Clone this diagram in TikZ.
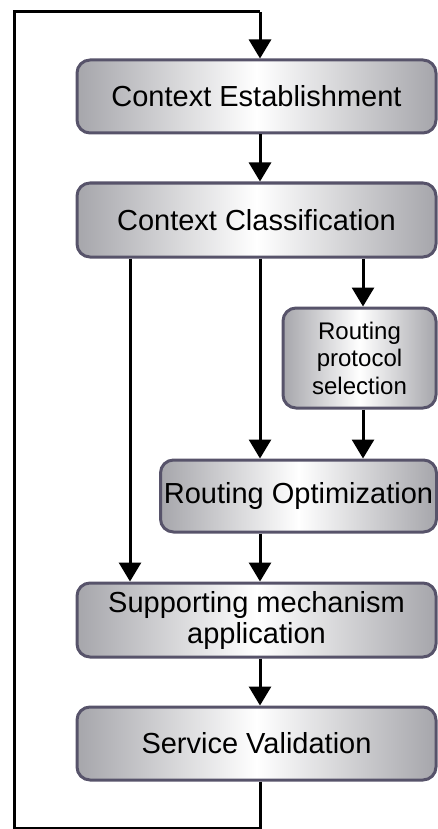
\documentclass[tikz,border=0pt]{standalone}
\usepackage{fontspec}
\setmainfont{Liberation Sans}
\usetikzlibrary{arrows.meta,calc}
\definecolor{boxedge}{HTML}{57536A}
\definecolor{boxside}{HTML}{A6A6AB}
\tikzset{
  stage/.style={draw=boxedge, line width=3pt, rounded corners=13pt,
    left color=boxside, right color=boxside, middle color=white,
    align=center, inner sep=0pt, font=\fontsize{29}{31}\selectfont},
  smallstage/.style={stage, font=\fontsize{24}{27.5}\selectfont},
  flow/.style={line width=3pt, -{Triangle[width=22pt,length=19pt]}},
  loopline/.style={line width=3pt},
}
\begin{document}
\begin{tikzpicture}[x=1pt,y=-1pt]
  \useasboundingbox (0,0) rectangle (437,829);
  % column positions of the vertical connectors
  \coordinate (colA) at (130,0);
  \coordinate (colB) at (260,0);
  \coordinate (colC) at (363,0);
  % feedback loop corners
  \coordinate (loopTR) at (260,12);
  \coordinate (loopTL) at (14,12);
  \coordinate (loopBL) at (14,828);
  \coordinate (loopBR) at (260,828);

  \node[stage, minimum width=359pt, minimum height=73pt] (ce) at (256.5,96.5) {Context Establishment};
  \node[stage, minimum width=359pt, minimum height=74pt] (cc) at (256.5,220) {Context Classification};
  \node[smallstage, minimum width=153pt, minimum height=100pt] (rps) at (359.5,358) {Routing\\protocol\\selection};
  \node[stage, minimum width=276pt, minimum height=72pt] (ro) at (298.5,496) {Routing Optimization};
  \node[stage, minimum width=359pt, minimum height=74pt] (sma) at (256.5,620) {Supporting mechanism\\application};
  \node[stage, minimum width=359pt, minimum height=73pt] (sv) at (256.5,743.5) {Service Validation};

  % main flow
  \draw[flow] (ce.south -| colB) -- (cc.north -| colB);
  \draw[flow] (cc.south -| colC) -- (rps.north -| colC);
  \draw[flow] (rps.south -| colC) -- (ro.north -| colC);
  \draw[flow] (cc.south -| colB) -- (ro.north -| colB);
  \draw[flow] (cc.south -| colA) -- (sma.north -| colA);
  \draw[flow] (ro.south -| colB) -- (sma.north -| colB);
  \draw[flow] (sma.south -| colB) -- (sv.north -| colB);

  % feedback loop back to the first stage
  \draw[loopline] (sv.south -| colB) -- (loopBR) -- (loopBL) -- (loopTL) -- (loopTR);
  \draw[flow] (loopTR) -- (ce.north -| colB);
\end{tikzpicture}
\end{document}
